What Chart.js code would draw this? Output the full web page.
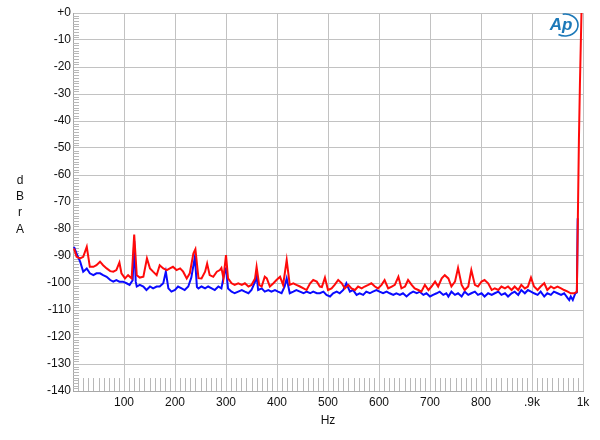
<!DOCTYPE html>
<html>
<head>
<meta charset="utf-8">
<script src="https://cdn.jsdelivr.net/npm/chart.js@4.4.0/dist/chart.umd.min.js"></script>
<style>
  html, body { margin: 0; padding: 0; background: #fff; }
  #wrap { width: 600px; height: 440px; }
</style>
</head>
<body>
<div id="wrap"><canvas id="fft-chart" width="600" height="440"></canvas></div>
<script>
// FFT spectrum, two channels

var redHz = [2, 7, 14, 20, 27, 33, 40, 46, 53, 59, 66, 73, 79, 85, 91, 95, 102, 108, 115, 120,
  125, 131, 138, 145, 151, 157, 164, 170, 177, 184, 190, 196, 203, 210, 216, 223, 229, 236, 240, 246,
  252, 259, 263, 268, 275, 282, 288, 291, 295, 300, 304, 311, 317, 324, 331, 337, 344, 350, 357, 360,
  365, 370, 376, 380, 386, 393, 399, 406, 412, 419, 425, 432, 438, 445, 452, 458, 465, 471, 478, 484,
  488, 494, 500, 507, 513, 520, 527, 533, 540, 546, 553, 559, 566, 572, 579, 585, 592, 598, 605, 611,
  618, 625, 631, 638, 644, 651, 657, 664, 670, 677, 683, 690, 697, 703, 710, 716, 723, 729, 736, 742,
  749, 755, 762, 768, 775, 781, 788, 794, 801, 807, 814, 821, 827, 834, 840, 847, 853, 860, 866, 873,
  879, 886, 892, 898, 904, 911, 917, 924, 930, 937, 943, 950, 957, 963, 970, 976, 983, 988, 990, 992,
  994, 997];
var redDb = [-87.2, -90.3, -90.9, -90.3, -86.6, -94.0, -94.0, -93.4, -92.1, -93.4, -94.6, -95.6, -95.8, -95.2, -92.4, -96.4, -98.3, -97.1, -98.3, -82.1,
  -97.1, -98.0, -97.7, -90.9, -94.6, -95.8, -97.1, -93.4, -94.6, -95.2, -94.6, -94.0, -95.2, -94.6, -95.8, -98.3, -96.4, -89.1, -87.5, -98.2,
  -98.3, -95.8, -92.8, -97.1, -97.7, -95.8, -95.2, -94.4, -98.3, -89.7, -98.3, -100.1, -100.7, -100.1, -100.7, -100.1, -101.3, -100.7, -98.3, -94.0,
  -100.7, -101.3, -97.7, -98.3, -101.3, -100.1, -98.9, -97.7, -100.7, -91.5, -100.7, -100.1, -100.7, -101.3, -102.0, -102.6, -100.1, -98.9, -99.5, -101.3,
  -101.5, -98.0, -102.6, -102.0, -100.7, -98.9, -100.1, -102.0, -100.7, -102.0, -102.6, -101.3, -102.0, -101.3, -100.7, -100.1, -101.3, -102.0, -100.7, -98.9,
  -102.0, -101.3, -100.7, -97.7, -102.0, -101.3, -98.9, -100.7, -102.0, -102.6, -103.2, -100.7, -102.6, -101.3, -99.5, -101.3, -98.3, -97.1, -98.3, -101.3,
  -99.5, -94.4, -100.7, -102.6, -101.3, -95.2, -100.7, -101.3, -99.5, -98.9, -100.1, -102.6, -102.0, -102.6, -101.3, -102.0, -101.3, -102.6, -101.3, -102.6,
  -100.7, -102.0, -101.3, -98.0, -101.3, -102.6, -101.3, -100.1, -102.6, -101.3, -102.0, -101.3, -102.0, -102.6, -103.2, -103.8, -103.8, -103.2, -75, -47,
  -26, 0];

var blueHz = [2, 7, 14, 20, 27, 33, 40, 46, 53, 59, 66, 73, 79, 85, 91, 98, 105, 111, 117, 120,
  123, 125, 131, 138, 144, 151, 157, 164, 170, 177, 182, 187, 193, 200, 206, 213, 219, 226, 232, 239,
  243, 246, 252, 259, 265, 272, 278, 285, 291, 298, 300, 304, 311, 317, 324, 331, 337, 344, 350, 357,
  360, 363, 370, 376, 383, 389, 396, 402, 409, 415, 419, 425, 432, 438, 445, 452, 458, 465, 471, 478,
  484, 491, 497, 504, 510, 517, 523, 530, 536, 543, 549, 556, 562, 569, 575, 582, 588, 595, 601, 608,
  615, 621, 628, 634, 641, 647, 654, 661, 667, 674, 680, 687, 693, 700, 706, 713, 719, 726, 732, 736,
  742, 749, 755, 762, 768, 775, 781, 788, 794, 801, 807, 814, 821, 827, 834, 840, 847, 853, 860, 866,
  873, 879, 886, 892, 898, 904, 911, 917, 924, 930, 937, 943, 950, 957, 963, 970, 973, 976, 980, 985,
  988, 989.6];
var blueDb = [-86.6, -89.1, -92.1, -95.8, -94.6, -96.4, -97.1, -96.4, -96.4, -97.1, -97.7, -98.9, -99.5, -98.9, -99.5, -99.5, -100.1, -100.7, -99.0, -84.5,
  -99.5, -101.3, -100.7, -101.3, -102.6, -101.3, -102.0, -101.3, -101.3, -100.1, -95.8, -102.0, -103.2, -102.6, -101.3, -102.0, -102.6, -101.3, -98.0, -90.3,
  -101.5, -102.0, -101.3, -102.0, -101.3, -102.0, -102.6, -101.3, -102.0, -95.2, -94.6, -102.0, -103.2, -103.8, -103.2, -102.6, -103.2, -103.8, -102.6, -99.5,
  -97.1, -102.6, -102.0, -103.2, -102.6, -103.2, -102.6, -103.2, -103.8, -101.3, -98.3, -103.8, -103.2, -102.6, -103.2, -103.8, -103.2, -103.8, -103.2, -103.8,
  -103.8, -103.2, -104.4, -105.0, -103.8, -103.2, -103.8, -102.6, -100.1, -103.2, -102.6, -104.4, -103.8, -104.4, -103.2, -103.8, -103.2, -102.6, -103.2, -103.8,
  -103.2, -103.8, -104.4, -103.8, -104.4, -103.8, -105.0, -103.8, -103.2, -103.8, -103.2, -104.4, -103.8, -105.0, -104.4, -103.8, -103.2, -104.4, -103.8, -105.0,
  -103.2, -104.4, -103.8, -105.0, -103.2, -104.4, -103.8, -103.2, -104.4, -103.8, -105.0, -103.8, -104.4, -103.8, -103.2, -104.4, -103.8, -105.0, -103.8, -103.2,
  -104.4, -102.6, -103.8, -102.6, -103.2, -103.8, -104.4, -103.2, -105.0, -103.8, -104.4, -103.2, -103.8, -104.4, -103.8, -105.6, -106.3, -105.0, -106.3, -103.8,
  -103.5, -76];

var xTickValues = [100, 200, 300, 400, 500, 600, 700, 800, 900, 1000];
var xTickText = ['100', '200', '300', '400', '500', '600', '700', '800', '.9k', '1k'];
var yAxisLetters = ['d', 'B', 'r', 'A'];

var FONT = 'Liberation Sans, Arial, Helvetica, sans-serif';

function toPoints(xs, ys) {
  var out = [];
  for (var i = 0; i < xs.length; i++) out.push({ x: xs[i], y: ys[i] });
  return out;
}

// minor ticks, axis letters, AP logo
var decorPlugin = {
  id: 'decor',
  beforeDatasetsDraw: function (chart) {
    var ctx = chart.ctx, xs = chart.scales.x, ys = chart.scales.y;
    var area = chart.chartArea;
    ctx.save();
    ctx.strokeStyle = '#b8b8b8';
    ctx.lineWidth = 1;
    ctx.beginPath();
    var yTop = ys.getPixelForValue(-135.2);
    for (var f = 10; f < 1000; f += 10) {
      if (f % 100 === 0) continue;
      var px = Math.round(xs.getPixelForValue(f)) + 0.5;
      ctx.moveTo(px, area.bottom);
      ctx.lineTo(px, yTop);
    }
    for (var d = -139; d < 0; d += 1) {
      if (d % 10 === 0) continue;
      var py = Math.round(ys.getPixelForValue(d)) + 0.5;
      ctx.moveTo(area.left, py);
      ctx.lineTo(area.left + 6, py);
    }
    ctx.stroke();
    ctx.restore();
  },
  afterDraw: function (chart) {
    var ctx = chart.ctx, area = chart.chartArea;
    ctx.save();
    ctx.fillStyle = '#111';
    ctx.font = '12px ' + FONT;
    ctx.textAlign = 'center';
    ctx.textBaseline = 'middle';
    var letterY = [181, 197, 213, 230];
    for (var i = 0; i < yAxisLetters.length; i++) {
      ctx.fillText(yAxisLetters[i], 20, letterY[i]);
    }
    ctx.fillText('Hz', (area.left + area.right) / 2, 421);

    // AP logo
    ctx.strokeStyle = '#1b78b8';
    ctx.fillStyle = '#1b78b8';
    ctx.lineWidth = 1.6;
    ctx.beginPath();
    ctx.ellipse(565, 25, 13, 11, 0, -1.75, 2.1);
    ctx.stroke();
    ctx.font = 'italic bold 17px ' + FONT;
    ctx.fillText('Ap', 561, 25);
    ctx.restore();
  }
};

var ctx = document.getElementById('fft-chart').getContext('2d');
var fftChart = new Chart(ctx, {
  type: 'line',
  data: {
    datasets: [{
      label: 'Right',
      data: toPoints(redHz, redDb),
      borderColor: '#ff0a0a',
      borderWidth: 2,
      pointRadius: 0,
      tension: 0,
      fill: false,
      order: 0
    }, {
      label: 'Left',
      data: toPoints(blueHz, blueDb),
      borderColor: '#0a0aff',
      borderWidth: 2,
      pointRadius: 0,
      tension: 0,
      fill: false,
      order: 1
    }]
  },
  options: {
    responsive: false,
    animation: false,
    layout: { padding: { top: 13, right: 17, left: 0, bottom: 0 } },
    plugins: {
      legend: { display: false },
      tooltip: { enabled: false }
    },
    scales: {
      x: {
        type: 'linear',
        min: 0,
        max: 1000,
        afterFit: function (s) { s.height = 49; },
        afterBuildTicks: function (s) {
          s.ticks = [{ value: 0 }].concat(xTickValues.map(function (v) { return { value: v }; }));
        },
        ticks: {
          autoSkip: false,
          maxRotation: 0,
          padding: 4,
          color: '#111',
          font: { family: FONT, size: 12 },
          callback: function (v) {
            var i = xTickValues.indexOf(v);
            return i < 0 ? '' : xTickText[i];
          }
        },
        grid: { color: '#c2c2c2', lineWidth: 1, drawTicks: false },
        border: { color: '#a8a8a8' }
      },
      y: {
        min: -140,
        max: 0,
        afterFit: function (s) { s.width = 73; },
        ticks: {
          stepSize: 10,
          padding: 2,
          color: '#111',
          font: { family: FONT, size: 12 },
          callback: function (v) { return v === 0 ? '+0' : String(v); }
        },
        grid: { color: '#c2c2c2', lineWidth: 1, drawTicks: false },
        border: { color: '#a8a8a8' }
      }
    }
  },
  plugins: [decorPlugin]
});
</script>
</body>
</html>
